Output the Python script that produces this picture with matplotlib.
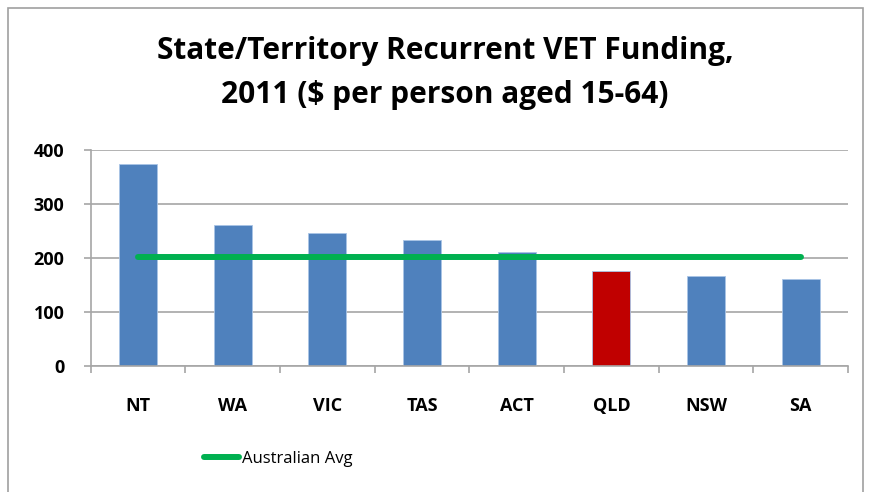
import matplotlib.pyplot as plt
from matplotlib.patches import Rectangle
import numpy as np

states = ["NT", "WA", "VIC", "TAS", "ACT", "QLD", "NSW", "SA"]
funding = [374, 261, 246, 234, 212, 176, 167, 161]
aus_avg = [202] * len(states)

bar_colors = ["#c00000" if s == "QLD" else "#4f81bd" for s in states]

plt.rcParams['font.family'] = ['Open Sans', 'DejaVu Sans']

fig = plt.figure(figsize=(8.69, 4.92), dpi=100)
ax = fig.add_axes([0.1044, 0.256, 0.8714, 0.439])

x = np.arange(len(states))
ax.bar(x, funding, width=0.4, color=bar_colors, edgecolor="#a9c4e6", linewidth=0.6, zorder=2)
ax.plot(x, aus_avg, color="#00b050", linewidth=4.3, solid_capstyle="round", zorder=3, label="Australian Avg")

ax.set_xlim(-0.5, len(states) - 0.5)
ax.set_ylim(0, 400)
ax.set_yticks([0, 100, 200, 300, 400])
ax.yaxis.grid(True, color="#a6a6a6", linewidth=1.2, zorder=0)
ax.set_axisbelow(True)

ax.set_xticks(x)
ax.set_xticklabels(states, fontsize=13, fontweight="bold")
ax.set_xticks(np.arange(-0.5, len(states)), minor=True)
ax.tick_params(axis="x", which="major", length=0, pad=22)
ax.tick_params(axis="x", which="minor", length=5, color="#a6a6a6", width=1.2)
ax.tick_params(axis="y", length=5, color="#a6a6a6", width=1.2, pad=14, labelsize=13)
for lbl in ax.get_yticklabels():
    lbl.set_fontweight("bold")

for side in ["top", "right"]:
    ax.spines[side].set_visible(False)
for side in ["left", "bottom"]:
    ax.spines[side].set_color("#a6a6a6")
    ax.spines[side].set_linewidth(1.2)

fig.text(0.512, 0.851, "State/Territory Recurrent VET Funding,\n2011 ($ per person aged 15-64)",
         ha="center", va="center", fontsize=21.5, fontweight="bold", linespacing=1.6)

fig.legend(loc="center", bbox_to_anchor=(0.32, 0.068), frameon=False, fontsize=12,
           handlelength=2.1, handletextpad=0.15)

# outer chart frame
fig.add_artist(Rectangle((0.009, -0.1), 0.984, 1.083, transform=fig.transFigure,
                         fill=False, edgecolor="#a0a0a0", linewidth=1.2))

fig.savefig("out.png", dpi=100)
